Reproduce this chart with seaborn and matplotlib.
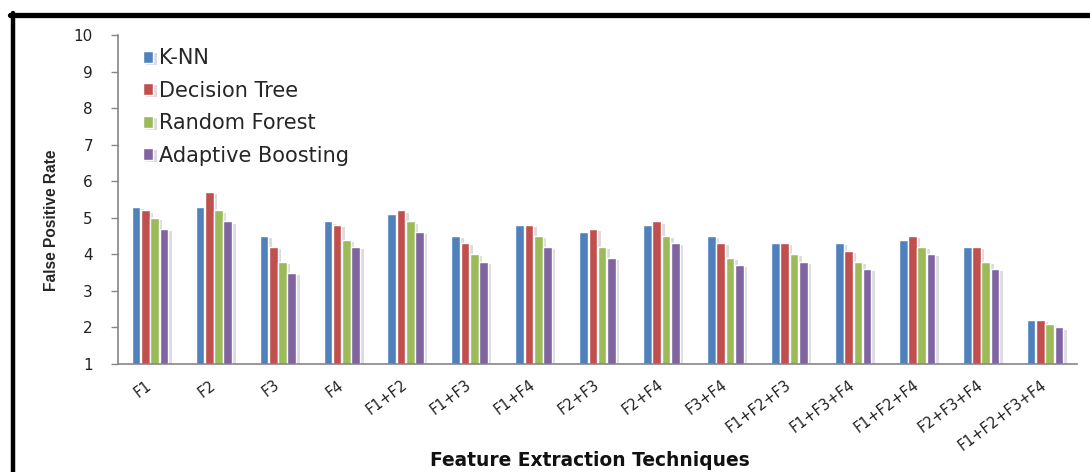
import matplotlib
matplotlib.use("Agg")
import matplotlib.pyplot as plt
import matplotlib.patheffects as pe
from matplotlib.lines import Line2D
import numpy as np
import pandas as pd
import seaborn as sns

# Feature combinations on the x axis
techniques = ["F1", "F2", "F3", "F4", "F1+F2", "F1+F3", "F1+F4", "F2+F3",
              "F2+F4", "F3+F4", "F1+F2+F3", "F1+F3+F4", "F1+F2+F4",
              "F2+F3+F4", "F1+F2+F3+F4"]

# False positive rate per classifier
knn = [5.3, 5.3, 4.5, 4.9, 5.1, 4.5, 4.8, 4.6, 4.8, 4.5, 4.3, 4.3, 4.4, 4.2, 2.2]
decision_tree = [5.2, 5.7, 4.2, 4.8, 5.2, 4.3, 4.8, 4.7, 4.9, 4.3, 4.3, 4.1, 4.5, 4.2, 2.2]
random_forest = [5.0, 5.2, 3.8, 4.4, 4.9, 4.0, 4.5, 4.2, 4.5, 3.9, 4.0, 3.8, 4.2, 3.8, 2.1]
adaboost = [4.7, 4.9, 3.5, 4.2, 4.6, 3.8, 4.2, 3.9, 4.3, 3.7, 3.8, 3.6, 4.0, 3.6, 2.0]

classifiers = ["K-NN", "Decision Tree", "Random Forest", "Adaptive Boosting"]
colors = ["#4F81BD", "#C0504D", "#9BBB59", "#8064A2"]
y_ticks = [1, 2, 3, 4, 5, 6, 7, 8, 9, 10]

series = [knn, decision_tree, random_forest, adaboost]
df = pd.DataFrame({
    "Technique": np.tile(techniques, len(classifiers)),
    "Classifier": np.repeat(classifiers, len(techniques)),
    "FPR": np.concatenate(series),
})

sns.set_style("white")
plt.rcParams["font.family"] = ["DejaVu Sans"]

W, H = 1090, 472
fig = plt.figure(figsize=(W / 100, H / 100), dpi=100)
ax = fig.add_axes([118 / W, 108 / H, 959 / W, 329 / H])

sns.barplot(data=df, x="Technique", y="FPR", hue="Classifier",
            order=techniques, hue_order=classifiers, palette=colors,
            saturation=1, width=0.58, gap=0.06, ax=ax, errorbar=None)

shadow = [pe.SimplePatchShadow(offset=(2.5, -1.5), shadow_rgbFace="#8a8a9a", alpha=0.3),
          pe.Normal()]
for p in ax.patches:
    p.set_path_effects(shadow)

ax.set_ylim(1, 10)
ax.set_xlim(-0.5, len(techniques) - 0.5)
ax.set_yticks(y_ticks)
ax.set_xlabel("")
ax.set_ylabel("")

for side in ["top", "right"]:
    ax.spines[side].set_visible(False)
for side in ["left", "bottom"]:
    ax.spines[side].set_color("#868686")
    ax.spines[side].set_linewidth(1.2)

ax.tick_params(axis="y", direction="out", length=5, width=1, color="#868686",
               pad=13, labelsize=11, labelcolor="#222222", left=True)
ax.tick_params(axis="x", length=0, pad=14, labelsize=10.5, labelcolor="#222222")
for lab in ax.get_xticklabels():
    lab.set_rotation(37)
    lab.set_ha("right")
    lab.set_va("center")
    lab.set_rotation_mode("anchor")

handles, labels = ax.get_legend_handles_labels()
leg = ax.legend(handles, labels, loc="upper left", bbox_to_anchor=(0.026, 0.96),
                frameon=False, fontsize=15, handlelength=0.5, handleheight=0.5,
                handletextpad=0.25, labelspacing=0.6, borderaxespad=0, borderpad=0)
for h in leg.legend_handles:
    h.set_path_effects(shadow)

fig.text(52 / W, 1 - 220 / H, "False Positive Rate", rotation=90, ha="center",
         va="center", fontsize=11.2, fontweight="bold", family="Liberation Sans")
fig.text(590 / W, 1 - 461 / H, "Feature Extraction Techniques", ha="center",
         va="center", fontsize=13.4, fontweight="bold", color="#111111")

# Dark frame around the chart area
fig.add_artist(Line2D([10 / W, 1.0], [1 - 15 / H, 1 - 15 / H], color="black",
                      linewidth=3.8, transform=fig.transFigure))
fig.add_artist(Line2D([13 / W, 13 / W], [0.0, 1 - 13 / H], color="black",
                      linewidth=3.2, transform=fig.transFigure))

fig.savefig("out.png", dpi=100, facecolor="white")
